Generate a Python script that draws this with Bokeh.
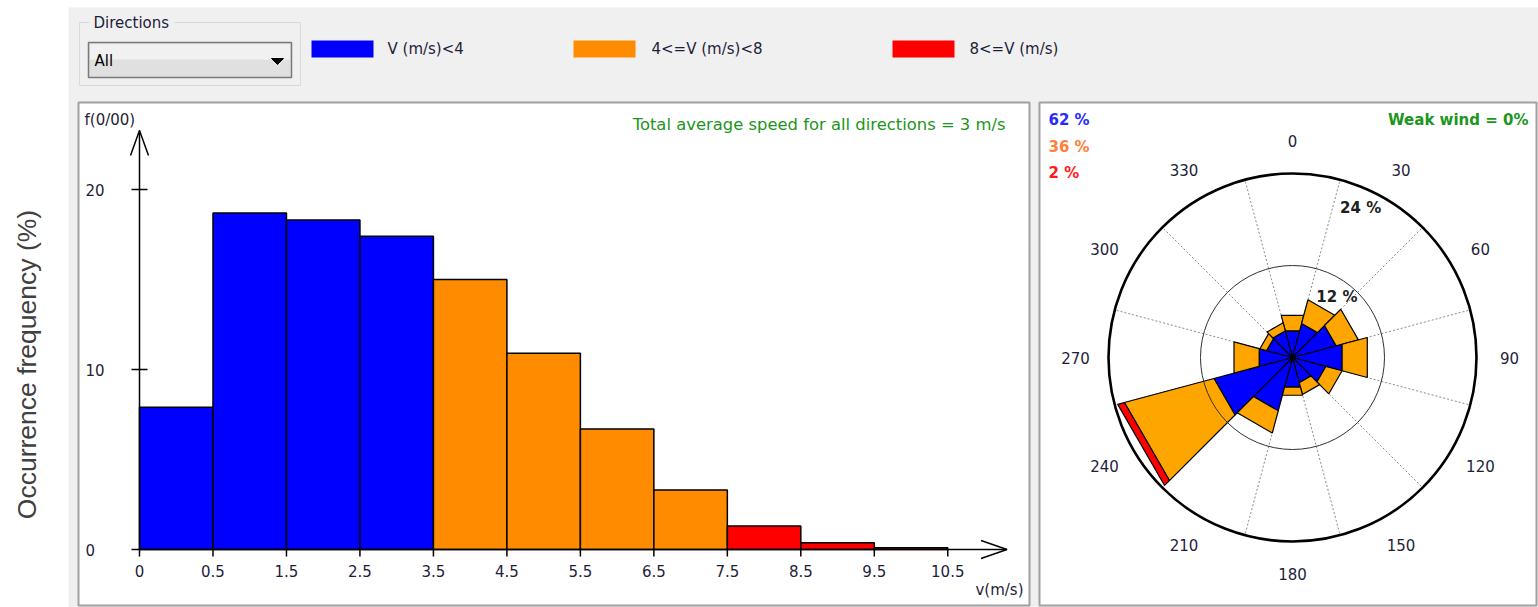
import numpy as np
from bokeh.plotting import figure
from bokeh.models import Range1d
from bokeh.core.properties import value
from bokeh.embed import file_html
from bokeh.resources import INLINE

# ---------------- data ----------------
speed_ticks = ["0", "0.5", "1.5", "2.5", "3.5", "4.5", "5.5", "6.5", "7.5", "8.5", "9.5", "10.5"]
freq = [7.9, 18.7, 18.3, 17.4, 15.0, 10.9, 6.7, 3.3, 1.3, 0.37, 0.1]
speed_class = [0, 0, 0, 0, 1, 1, 1, 1, 2, 2, 2]
freq_ticks = [0, 10, 20]
class_names = ["V (m/s)<4", "4<=V (m/s)<8", "8<=V (m/s)"]
class_colors = ["#0000ff", "#ff8c00", "#ff0000"]
rose_colors = ["#0000ff", "#ffa500", "#ff0000"]
class_share = ["62 %", "36 %", "2 %"]
share_colors = ["#2a2aff", "#ff7f3a", "#ff1a1a"]
directions = [0, 30, 60, 90, 120, 150, 180, 210, 240, 270, 300, 330]
rose_low = [3.6, 4.6, 5.9, 6.7, 4.5, 3.4, 4.0, 7.2, 10.6, 4.5, 3.5, 3.6]
rose_mid = [2.1, 3.2, 3.0, 3.4, 2.2, 1.6, 1.1, 3.0, 12.1, 3.4, 0.9, 1.1]
rose_high = [0, 0, 0, 0, 0, 0, 0, 0, 0.9, 0, 0, 0]
rings = [12, 24]
mean_speed = 3
weak_wind = 0

# ---------------- geometry ----------------
W, H = 1538, 607
OX, OY = 0, 0
HX0, HY0, HSX, HSY = 139.0, 549.0, 73.48, 18.0
RX0, RY0, RS = 1292.0, 357.0, 184.0 / 24

FONT = value("DejaVu Sans")
FS = value("15px")
TXT = "#1e1e3a"

p = figure(width=W, height=H, output_backend="svg", toolbar_location=None,
           x_range=Range1d((OX - HX0) / HSX, (OX + W - HX0) / HSX),
           y_range=Range1d((HY0 - (OY + H)) / HSY, (HY0 - OY) / HSY),
           x_axis_location=None, y_axis_location=None, min_border=0)
p.grid.visible = False
p.outline_line_color = None
p.background_fill_color = "white"
p.border_fill_color = "white"
p.extra_x_ranges = {"px": Range1d(OX, OX + W),
                    "rose": Range1d((OX - RX0) / RS, (OX + W - RX0) / RS)}
p.extra_y_ranges = {"px": Range1d(OY + H, OY),
                    "rose": Range1d((RY0 - (OY + H)) / RS, (RY0 - OY) / RS)}
PX = dict(x_range_name="px", y_range_name="px")
RO = dict(x_range_name="rose", y_range_name="rose")

# ---------------- window decoration ----------------
p.quad(left=[68], right=[1545], top=[7], bottom=[610], fill_color="#f0f0f0", line_color=None, **PX)
p.text(x=[26], y=[364], text=["Occurrence frequency (%)"], angle=np.pi / 2,
       text_align="center", text_baseline="middle", text_font=value("Liberation Sans"),
       text_font_size=value("26.5px"), text_color="#404040", **PX)

# group box "Directions"
p.quad(left=[79], right=[300], top=[22], bottom=[85], fill_color=None,
       line_color="#d2dae2", line_width=1, **PX)
p.quad(left=[89], right=[174], top=[15], bottom=[29], fill_color="#f0f0f0", line_color=None, **PX)
p.text(x=[93], y=[22], text=["Directions"], text_align="left", text_baseline="middle",
       text_font=FONT, text_font_size=FS, text_color=TXT, **PX)
# dropdown
p.quad(left=[88], right=[291], top=[42], bottom=[77], fill_color="#e0e0e0",
       line_color="#7a7a7a", line_width=1.5, **PX)
p.quad(left=[89.5], right=[289.5], top=[43.5], bottom=[59], fill_color="#f1f1f1", line_color=None, **PX)
p.text(x=[94], y=[60], text=["All"], text_align="left", text_baseline="middle",
       text_font=FONT, text_font_size=FS, text_color="black", **PX)
p.patch(x=[271, 283, 277], y=[58, 58, 64], fill_color="black", line_color="black", **PX)

# legend
sw_left = [311, 573, 892]
p.quad(left=sw_left, right=[v + 62 for v in sw_left], top=[40] * 3, bottom=[57] * 3,
       fill_color=class_colors, line_color=None, **PX)
p.text(x=[387, 651, 969], y=[48.5] * 3, text=class_names, text_align="left",
       text_baseline="middle", text_font=FONT, text_font_size=FS, text_color=TXT, **PX)

# panels
p.quad(left=[78, 1039], right=[1029, 1536], top=[102, 102], bottom=[605, 605],
       fill_color="white", line_color="#a0a0a0", line_width=2, **PX)

# ---------------- histogram ----------------
idx = np.arange(len(freq))
p.quad(left=idx, right=idx + 1, bottom=0, top=freq,
       fill_color=[class_colors[c] for c in speed_class], line_color="black", line_width=1.5)

ytop = (HY0 - 130) / HSY
xend = (1006.5 - HX0) / HSX
ax_xs = [[0, 0], [-9 / HSX, 0, 9 / HSX], [-8 / HSX, xend],
         [xend - 26 / HSX, xend, xend - 26 / HSX]]
ax_ys = [[0, ytop], [ytop - 25 / HSY, ytop, ytop - 25 / HSY], [0, 0],
         [9 / HSY, 0, -9 / HSY]]
for t in freq_ticks[1:]:
    ax_xs.append([-8 / HSX, 8 / HSX])
    ax_ys.append([t, t])
for i in range(len(speed_ticks)):
    ax_xs.append([i, i])
    ax_ys.append([0, -7 / HSY])
p.multi_line(ax_xs, ax_ys, line_color="black", line_width=1.5)

p.text(x=list(range(len(speed_ticks))), y=[0] * len(speed_ticks), text=speed_ticks,
       y_offset=21, text_align="center", text_baseline="middle",
       text_font=FONT, text_font_size=FS, text_color=TXT)
p.text(x=[0] * len(freq_ticks), y=freq_ticks, text=[str(t) for t in freq_ticks],
       x_offset=-54, text_align="left", text_baseline="middle",
       text_font=FONT, text_font_size=FS, text_color=TXT)
p.text(x=[84], y=[119], text=["f(0/00)"], text_align="left", text_baseline="middle",
       text_font=FONT, text_font_size=FS, text_color=TXT, **PX)
p.text(x=[1023], y=[589], text=["v(m/s)"], text_align="right", text_baseline="middle",
       text_font=FONT, text_font_size=FS, text_color=TXT, **PX)
p.text(x=[1005], y=[124], text=["Total average speed for all directions = %d m/s" % mean_speed],
       text_align="right", text_baseline="middle", text_font=FONT,
       text_font_size=value("16.4px"), text_color="#1c961c", **PX)

# ---------------- wind rose ----------------
rmax = rings[-1]
gx, gy = [], []
for k in range(12):
    a = np.radians(15 + 30 * k)
    gx.append([0, rmax * np.sin(a)])
    gy.append([0, rmax * np.cos(a)])
p.multi_line(gx, gy, line_color="#8a8a8a", line_dash="2 2", line_width=1, **RO)

half = np.radians(15)
xs, ys, cols = [], [], []
cum0 = np.zeros(len(directions))
for vals, col in zip([rose_low, rose_mid, rose_high], rose_colors):
    cum1 = cum0 + np.array(vals, dtype=float)
    for d, r0, r1 in zip(directions, cum0, cum1):
        if r1 - r0 <= 0:
            continue
        a = np.radians(d)
        angs = [a - half, a - half, a + half, a + half]
        rads = [r0, r1, r1, r0]
        xs.append([r * np.sin(t) for r, t in zip(rads, angs)])
        ys.append([r * np.cos(t) for r, t in zip(rads, angs)])
        cols.append(col)
    cum0 = cum1
p.patches(xs, ys, fill_color=cols, line_color="black", line_width=1.2, **RO)

p.circle(x=[0, 0], y=[0, 0], radius=rings, fill_color=None,
         line_color=["#303030", "black"], line_width=[1, 2.6], **RO)

rl = 28.3
p.text(x=[rl * np.sin(np.radians(d)) for d in directions],
       y=[rl * np.cos(np.radians(d)) for d in directions],
       text=[str(d) for d in directions], text_align="center", text_baseline="middle",
       text_font=FONT, text_font_size=FS, text_color=TXT, **RO)
p.text(x=[r * np.sin(half) for r in rings], y=[r * np.cos(half) for r in rings],
       text=["%d %%" % r for r in rings], y_offset=19, text_align="left", text_baseline="top",
       text_font=FONT, text_font_size=FS, text_font_style="bold", text_color="#202020", **RO)

p.text(x=[1048] * 3, y=[119, 146, 172], text=class_share, text_align="left",
       text_baseline="middle", text_font=FONT, text_font_size=FS, text_font_style="bold",
       text_color=share_colors, **PX)
p.text(x=[1528], y=[119], text=["Weak wind = %d%%" % weak_wind], text_align="right",
       text_baseline="middle", text_font=FONT, text_font_size=FS, text_font_style="bold",
       text_color="#1c961c", **PX)

open("out.html", "w").write(file_html(p, INLINE))
